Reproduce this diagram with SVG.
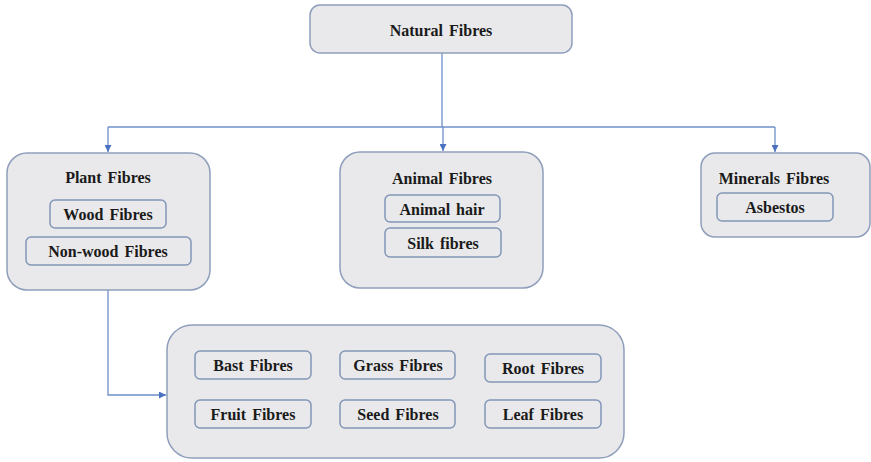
<svg xmlns="http://www.w3.org/2000/svg" width="871" height="462" viewBox="0 0 871 462">
<defs>
<style>
.box{fill:#e9e9eb;stroke:#8e9ebb;stroke-width:1.5}
.inner{fill:#e9e9eb;stroke:#8397b8;stroke-width:1.5}
.t{font-family:"Liberation Serif","Times New Roman",serif;font-weight:bold;font-size:16px;word-spacing:2px;fill:#1a1a1a;text-anchor:middle;dominant-baseline:central}
.c{fill:none;stroke:#6f8fc9;stroke-width:1.3}
</style>
<marker id="arr" viewBox="0 0 10 10" refX="10" refY="5" markerWidth="7" markerHeight="7" markerUnits="userSpaceOnUse" orient="auto">
<path d="M0,0 L10,5 L0,10 z" fill="#4a72c0"/>
</marker>
</defs>
<rect width="871" height="462" fill="#ffffff"/>
<g id="connectors">
<path class="c" d="M442,53 V127"/>
<path class="c" d="M108,127 H775"/>
<path class="c" d="M108,127 V152" marker-end="url(#arr)"/>
<path class="c" d="M443,127 V151" marker-end="url(#arr)"/>
<path class="c" d="M775,127 V152" marker-end="url(#arr)"/>
<path class="c" d="M108,290 V395 H166" marker-end="url(#arr)"/>
</g>
<g id="natural">
<rect class="box" x="310" y="5" width="262" height="48" rx="10"/>
<text class="t" x="441" y="30">Natural Fibres</text>
</g>
<g id="plant">
<rect class="box" x="7" y="153" width="203" height="137" rx="20"/>
<text class="t" x="108" y="177">Plant Fibres</text>
<g id="wood">
<rect class="inner" x="50" y="200" width="116" height="28" rx="5"/>
<text class="t" x="108" y="214">Wood Fibres</text>
</g>
<g id="nonwood">
<rect class="inner" x="26" y="237" width="165" height="28" rx="5"/>
<text class="t" x="108" y="251">Non-wood Fibres</text>
</g>
</g>
<g id="animal">
<rect class="box" x="340" y="152" width="203" height="136" rx="20"/>
<text class="t" x="442" y="178">Animal Fibres</text>
<g id="hair">
<rect class="inner" x="385" y="195" width="115" height="27" rx="5"/>
<text class="t" x="442" y="209">Animal hair</text>
</g>
<g id="silk">
<rect class="inner" x="385" y="228" width="116" height="29" rx="5"/>
<text class="t" x="443" y="243">Silk fibres</text>
</g>
</g>
<g id="minerals">
<rect class="box" x="701" y="153" width="169" height="84" rx="14"/>
<text class="t" x="774" y="178">Minerals Fibres</text>
<g id="asbestos">
<rect class="inner" x="717" y="193" width="116" height="28" rx="5"/>
<text class="t" x="775" y="207">Asbestos</text>
</g>
</g>
<g id="nonwoodtypes">
<rect class="box" x="167" y="325" width="457" height="133" rx="25"/>
<g id="bast">
<rect class="inner" x="195" y="351" width="116" height="28" rx="5"/>
<text class="t" x="253" y="365">Bast Fibres</text>
</g>
<g id="grass">
<rect class="inner" x="340" y="351" width="115" height="28" rx="5"/>
<text class="t" x="398" y="365">Grass Fibres</text>
</g>
<g id="root">
<rect class="inner" x="485" y="354" width="116" height="28" rx="5"/>
<text class="t" x="543" y="368">Root Fibres</text>
</g>
<g id="fruit">
<rect class="inner" x="195" y="400" width="116" height="28" rx="5"/>
<text class="t" x="253" y="414">Fruit Fibres</text>
</g>
<g id="seed">
<rect class="inner" x="340" y="400" width="115" height="28" rx="5"/>
<text class="t" x="398" y="414">Seed Fibres</text>
</g>
<g id="leaf">
<rect class="inner" x="485" y="400" width="116" height="28" rx="5"/>
<text class="t" x="543" y="414">Leaf Fibres</text>
</g>
</g>
</svg>
